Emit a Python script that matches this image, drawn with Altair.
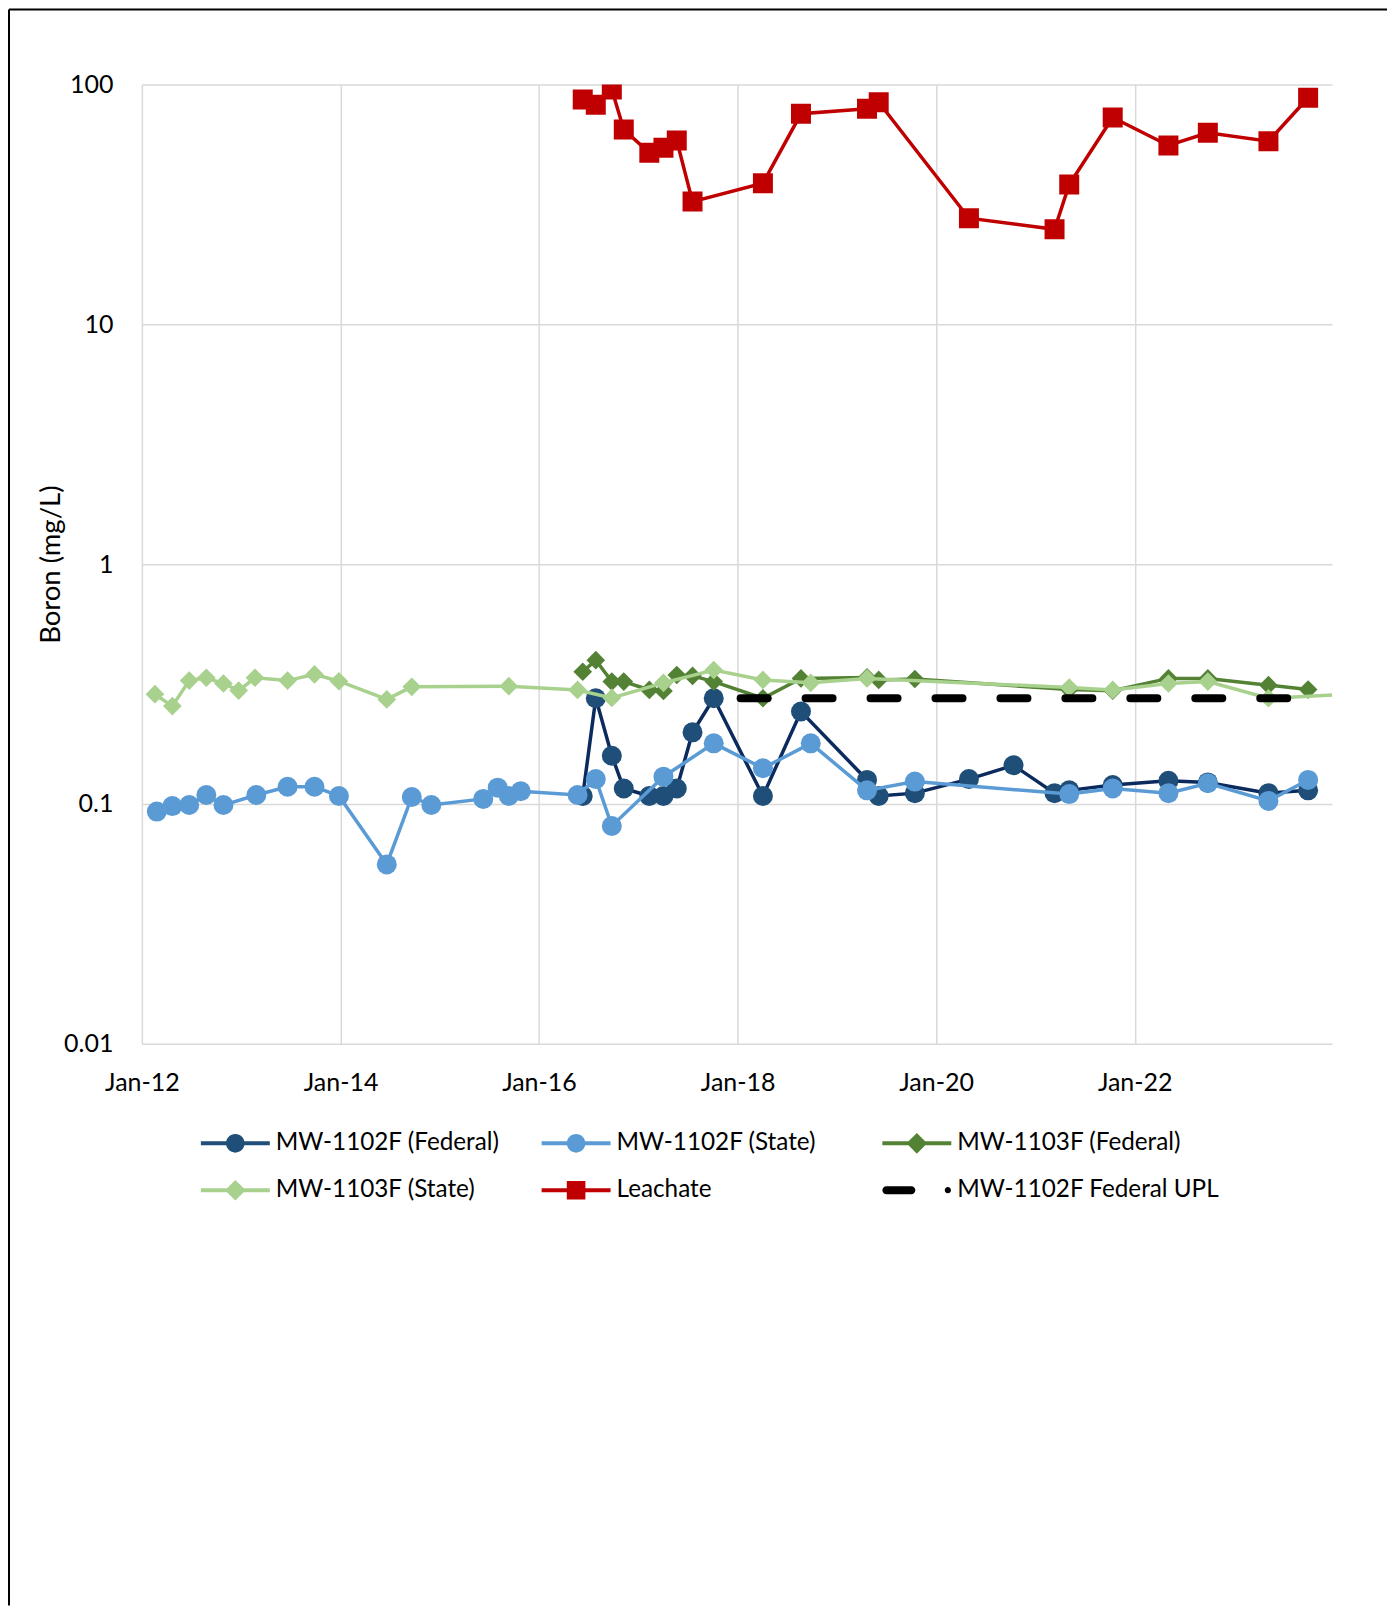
import altair as alt
import pandas as pd

# ---------------- data ----------------
fed02_dates = ["2016-06-10", "2016-07-28", "2016-09-25", "2016-11-08", "2017-02-10", "2017-04-03",
               "2017-05-22", "2017-07-19", "2017-10-05", "2018-04-04", "2018-08-22", "2019-04-22",
               "2019-06-04", "2019-10-15", "2020-05-01", "2020-10-12", "2021-03-12", "2021-05-05",
               "2021-10-12", "2022-05-05", "2022-09-27", "2023-05-08", "2023-10-01"]
fed02_vals = [0.108, 0.276, 0.159, 0.116, 0.108, 0.108, 0.116, 0.199, 0.276, 0.108, 0.243, 0.126,
              0.108, 0.111, 0.127, 0.145, 0.111, 0.114, 0.120, 0.125, 0.123, 0.111, 0.114]

sta02_dates = ["2012-02-25", "2012-04-22", "2012-06-23", "2012-08-25", "2012-10-27", "2013-02-25",
               "2013-06-20", "2013-09-27", "2013-12-26", "2014-06-20", "2014-09-20", "2014-12-01",
               "2015-06-10", "2015-08-02", "2015-09-12", "2015-10-26", "2016-05-22", "2016-07-28",
               "2016-09-25", "2017-04-03", "2017-10-05", "2018-04-04", "2018-09-27", "2019-04-22",
               "2019-10-15", "2021-05-05", "2021-10-12", "2022-05-05", "2022-09-27", "2023-05-08",
               "2023-10-01"]
sta02_vals = [0.093, 0.098, 0.099, 0.109, 0.099, 0.109, 0.118, 0.118, 0.108, 0.056, 0.107, 0.099,
              0.105, 0.117, 0.108, 0.113, 0.109, 0.127, 0.081, 0.130, 0.179, 0.141, 0.179, 0.114,
              0.124, 0.110, 0.116, 0.111, 0.122, 0.103, 0.126]

fed03_dates = ["2016-06-10", "2016-07-28", "2016-09-25", "2016-11-08", "2017-02-10", "2017-04-03",
               "2017-05-22", "2017-07-19", "2017-10-05", "2018-04-04", "2018-08-22", "2019-04-22",
               "2019-06-04", "2019-10-15", "2021-05-05", "2021-10-12", "2022-05-05", "2022-09-27",
               "2023-05-08", "2023-10-01"]
fed03_vals = [0.356, 0.398, 0.324, 0.324, 0.299, 0.296, 0.345, 0.342, 0.324, 0.276, 0.334, 0.337,
              0.329, 0.332, 0.300, 0.297, 0.334, 0.334, 0.313, 0.300]

sta03_dates = ["2012-02-18", "2012-04-22", "2012-06-23", "2012-08-25", "2012-10-27", "2012-12-22",
               "2013-02-20", "2013-06-20", "2013-09-27", "2013-12-26", "2014-06-20", "2014-09-20",
               "2015-09-12", "2016-05-22", "2016-09-25", "2017-04-03", "2017-10-05", "2018-04-04",
               "2018-09-27", "2019-04-22", "2021-05-05", "2021-10-12", "2022-05-05", "2022-09-27",
               "2023-05-08", "2024-03-01"]
sta03_vals = [0.287, 0.256, 0.327, 0.336, 0.318, 0.297, 0.336, 0.327, 0.347, 0.325, 0.273, 0.308,
              0.310, 0.299, 0.277, 0.320, 0.362, 0.329, 0.320, 0.334, 0.306, 0.299, 0.318, 0.324,
              0.276, 0.287]

leach_dates = ["2016-06-10", "2016-07-28", "2016-09-25", "2016-11-08", "2017-02-10", "2017-04-03",
               "2017-05-22", "2017-07-19", "2018-04-04", "2018-08-22", "2019-04-22", "2019-06-04",
               "2020-05-01", "2021-03-12", "2021-05-05", "2021-10-12", "2022-05-05", "2022-09-27",
               "2023-05-08", "2023-10-01"]
leach_vals = [86.6, 82.3, 95.3, 64.9, 51.9, 54.5, 58.4, 32.5, 38.8, 75.5, 79.2, 84.4,
              27.7, 24.9, 38.3, 72.9, 55.7, 62.9, 58.0, 88.1]

upl_dates = ["2018-01-12", "2023-10-10"]
upl_vals = [0.276, 0.276]

series_names = ["MW-1102F (Federal)", "MW-1102F (State)", "MW-1103F (Federal)",
                "MW-1103F (State)", "Leachate", "MW-1102F Federal UPL"]

y_ticks = [0.01, 0.1, 1, 10, 100]
x_tick_years = [2012, 2014, 2016, 2018, 2020, 2022]

# ---------------- styles ----------------
line_color = {
    "MW-1102F (Federal)": "#0B2A5E",
    "MW-1102F (State)": "#5B9BD5",
    "MW-1103F (Federal)": "#548235",
    "MW-1103F (State)": "#A9D18E",
    "Leachate": "#C00000",
}
marker_color = {
    "MW-1102F (Federal)": "#1F4E79",
    "MW-1102F (State)": "#5B9BD5",
    "MW-1103F (Federal)": "#548235",
    "MW-1103F (State)": "#A9D18E",
    "Leachate": "#C00000",
}
marker_shape = {
    "MW-1102F (Federal)": "circle",
    "MW-1102F (State)": "circle",
    "MW-1103F (Federal)": "diamond",
    "MW-1103F (State)": "diamond",
    "Leachate": "square",
}
marker_size = {"circle": 400, "square": 400, "diamond": 350}

FONT = "Lato"
FS = 25

rows = []
for name, dts, vals in [
    ("MW-1102F (Federal)", fed02_dates, fed02_vals),
    ("MW-1102F (State)", sta02_dates, sta02_vals),
    ("MW-1103F (Federal)", fed03_dates, fed03_vals),
    ("MW-1103F (State)", sta03_dates, sta03_vals),
    ("Leachate", leach_dates, leach_vals),
    ("MW-1102F Federal UPL", upl_dates, upl_vals),
]:
    for d, v in zip(dts, vals):
        rows.append({"series": name, "date": d, "value": v})
df = pd.DataFrame(rows)

x_enc = alt.X(
    "date:T",
    scale=alt.Scale(
        type="utc",
        domain=[alt.DateTime(year=2012, month=1, date=1, utc=True),
                alt.DateTime(year=2023, month=12, date=28, utc=True)],
    ),
    axis=alt.Axis(
        values=[alt.DateTime(year=y, month=1, date=1, utc=True) for y in x_tick_years],
        labelExpr="utcFormat(datum.value, '%b-%y')",
        labelFont=FONT, labelFontSize=FS, labelColor="black", labelPadding=27,
        labelFlush=False, labelOverlap=False,
        ticks=False, tickSize=0, domain=False,
        grid=True, gridColor="#D9D9D9", gridWidth=1.5, title=None,
    ),
)
y_enc = alt.Y(
    "value:Q",
    scale=alt.Scale(type="log", domain=[0.01, 100]),
    axis=alt.Axis(
        values=y_ticks, format="~g",
        labelFont=FONT, labelFontSize=FS, labelColor="black", labelPadding=29,
        ticks=False, tickSize=0, domain=False,
        grid=True, gridColor="#D9D9D9", gridWidth=1.5,
        title="Boron (mg/L)", titleFont=FONT, titleFontSize=27.5, titleFontWeight="normal",
        titleColor="black", titleAngle=270, titleAlign="center", titleBaseline="middle",
        titleX=-90, titleY=480,
    ),
)

layers = []
for s in ["MW-1102F (Federal)", "MW-1102F (State)", "MW-1103F (Federal)",
          "MW-1103F (State)", "Leachate"]:
    base = alt.Chart(df).transform_filter(alt.datum.series == s)
    layers.append(base.mark_line(color=line_color[s], strokeWidth=3.5, clip=True)
                  .encode(x=x_enc, y=y_enc))
    shp = marker_shape[s]
    layers.append(base.mark_point(shape=shp, filled=True, fill=marker_color[s],
                                  size=marker_size[shp], opacity=1, strokeWidth=0, clip=True)
                  .encode(x=x_enc, y=y_enc))

# UPL dashed line
layers.append(
    alt.Chart(df).transform_filter(alt.datum.series == "MW-1102F Federal UPL")
    .mark_line(color="black", strokeWidth=8, strokeDash=[27, 38], strokeCap="round", clip=True)
    .encode(x=x_enc, y=y_enc)
)

# legend-only layer (points placed outside domain and clipped)
line_rect = "M-1,-0.058 L1,-0.058 L1,0.058 L-1,0.058 Z "
circ = "M-0.27,0 A0.27,0.27 0 1,1 0.27,0 A0.27,0.27 0 1,1 -0.27,0 Z"
sq = "M-0.27,-0.27 L0.27,-0.27 L0.27,0.27 L-0.27,0.27 Z"
dia = "M0,-0.3 L0.3,0 L0,0.3 L-0.3,0 Z"
upl_path = ("M-0.884,-0.116 L-0.159,-0.116 A0.116,0.116 0 0,1 -0.159,0.116 "
            "L-0.884,0.116 A0.116,0.116 0 0,1 -0.884,-0.116 Z "
            "M0.81,0 A0.09,0.09 0 1,1 0.99,0 A0.09,0.09 0 1,1 0.81,0 Z")
legend_paths = [line_rect + circ, line_rect + circ, line_rect + dia,
                line_rect + dia, line_rect + sq, upl_path]
legend_colors = ["#1F4E79", "#5B9BD5", "#548235", "#A9D18E", "#C00000", "#000000"]

leg_df = pd.DataFrame({"name": series_names,
                       "date": ["2030-01-01"] * len(series_names),
                       "value": [1.0] * len(series_names)})
legend = alt.Legend(
    orient="none", legendX=59, legendY=1025, columns=3, direction="horizontal",
    gridAlign="all", columnPadding=3, rowPadding=0, title=None,
    labelFont=FONT, labelFontSize=24.3, labelColor="black", labelLimit=1000, labelOffset=6,
    symbolSize=4761, symbolStrokeWidth=0, symbolOpacity=1,
)
layers.append(
    alt.Chart(leg_df).mark_point(filled=True, opacity=1, size=4761, strokeWidth=0, clip=True)
    .encode(
        x=x_enc, y=y_enc,
        color=alt.Color("name:N", scale=alt.Scale(domain=series_names, range=legend_colors),
                        legend=legend),
        shape=alt.Shape("name:N", scale=alt.Scale(domain=series_names, range=legend_paths),
                        legend=legend),
    )
)

# chart area border (top and left visible edges)
one = pd.DataFrame({"k": [0]})
layers.append(alt.Chart(one).mark_rule(color="black", strokeWidth=2)
              .encode(x=alt.value(-133), x2=alt.value(1246), y=alt.value(-75)))
layers.append(alt.Chart(one).mark_rule(color="black", strokeWidth=2)
              .encode(x=alt.value(-133), y=alt.value(-75), y2=alt.value(1522)))

chart = alt.layer(*layers).properties(
    width=1191, height=960,
    padding={"left": 134, "top": 76, "right": 55, "bottom": 562},
    autosize=alt.AutoSizeParams(type="none"),
    background="white",
).configure_view(stroke="transparent")

chart.save("out.html", embed_options={"renderer": "svg", "actions": False})
